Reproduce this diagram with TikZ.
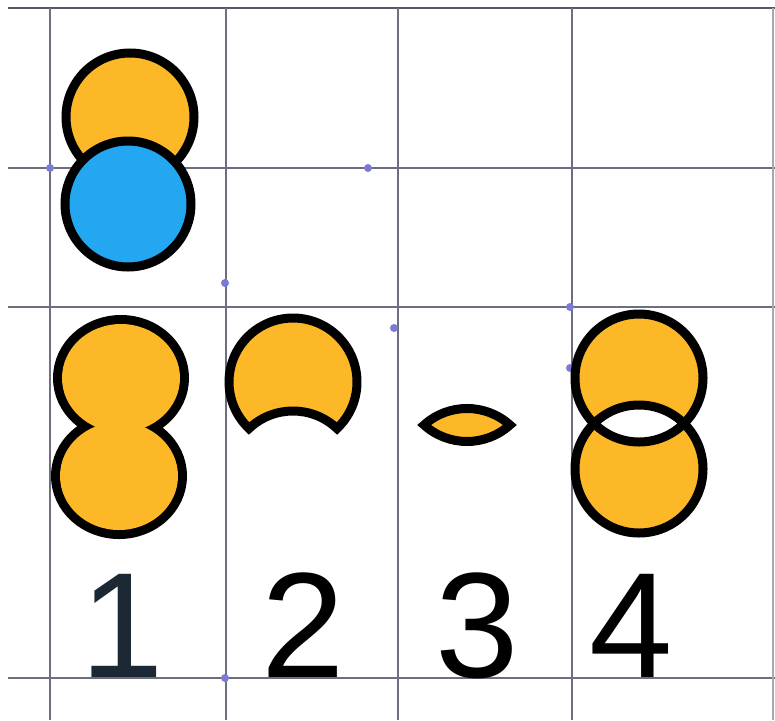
\documentclass[tikz,border=0pt]{standalone}
\usepackage{fontspec}
\setmainfont{Liberation Sans}
\definecolor{setorange}{HTML}{FDB827}
\definecolor{setblue}{HTML}{22A7F0}
\definecolor{gridgray}{HTML}{6E6E80}
\definecolor{ptpurple}{HTML}{7B7BD6}
\definecolor{navyink}{HTML}{1C2833}
\begin{document}
\begin{tikzpicture}[x=1pt,y=-1pt,
  gridline/.style={draw=gridgray,line width=1.3},
  gpoint/.style={fill=ptpurple},
  setline/.style={draw=black,line width=9,line join=miter},
  digit/.style={anchor=base,inner sep=0pt,font=\fontsize{150}{150}\selectfont}]
\useasboundingbox (0,0) rectangle (775,720);
\fill[white] (0,0) rectangle (775,720);
% grid
\draw[gridline,line width=2.2,draw=gridgray!80!black] (8,8) -- (775,8);
\draw[gridline] (8,168) -- (775,168);
\draw[gridline] (8,307) -- (775,307);
\draw[gridline] (8,678) -- (775,678);
\foreach \gx in {50,226,398,572} \draw[gridline] (\gx,8) -- (\gx,720);
\draw[gridline,draw=gridgray!60] (773,8) -- (773,720);
% points
\foreach \p in {(50,168),(368,168),(225,283),(394,328),(570,307),(570,368),(225,678)}
  \fill[gpoint] \p circle[radius=4];
% top: orange behind blue
\draw[setline,fill=setorange] (130,117) circle[radius=64];
\draw[setline,fill=setblue] (128,204) circle[radius=63];
% 1: union
\draw[draw=black,line width=18] (121,378) circle[x radius=59,y radius=54] (119,476) circle[x radius=59,y radius=54];
\fill[setorange] (121,378) circle[x radius=59,y radius=54] (119,476) circle[x radius=59,y radius=54];
% 2: difference
\draw[setline,fill=setorange] (293,382) ++(46.6:64) arc[start angle=46.6,end angle=-226.6,radius=64]
   arc[start angle=226.6,end angle=313.4,radius=64] -- cycle;
% 3: intersection
\draw[setline,fill=setorange] (467,377.5) ++(132.1:64) arc[start angle=132.1,end angle=47.9,radius=64]
   arc[start angle=-47.9,end angle=-132.1,radius=64] -- cycle;
% 4: symmetric difference
\fill[setorange] (639,378) circle[radius=64] (639,469) circle[radius=64];
\begin{scope}
  \clip (639,378) circle[radius=64];
  \fill[white] (639,469) circle[radius=64];
\end{scope}
\draw[setline] (639,378) circle[radius=64] (639,469) circle[radius=64];
% digits
\node[digit,text=navyink] (d1) at (122,677) {1};
\node[digit] (d2) at (303,677) {2};
\node[digit] (d3) at (477,677) {3};
\node[digit] (d4) at (631,677) {4};
\end{tikzpicture}
\end{document}
